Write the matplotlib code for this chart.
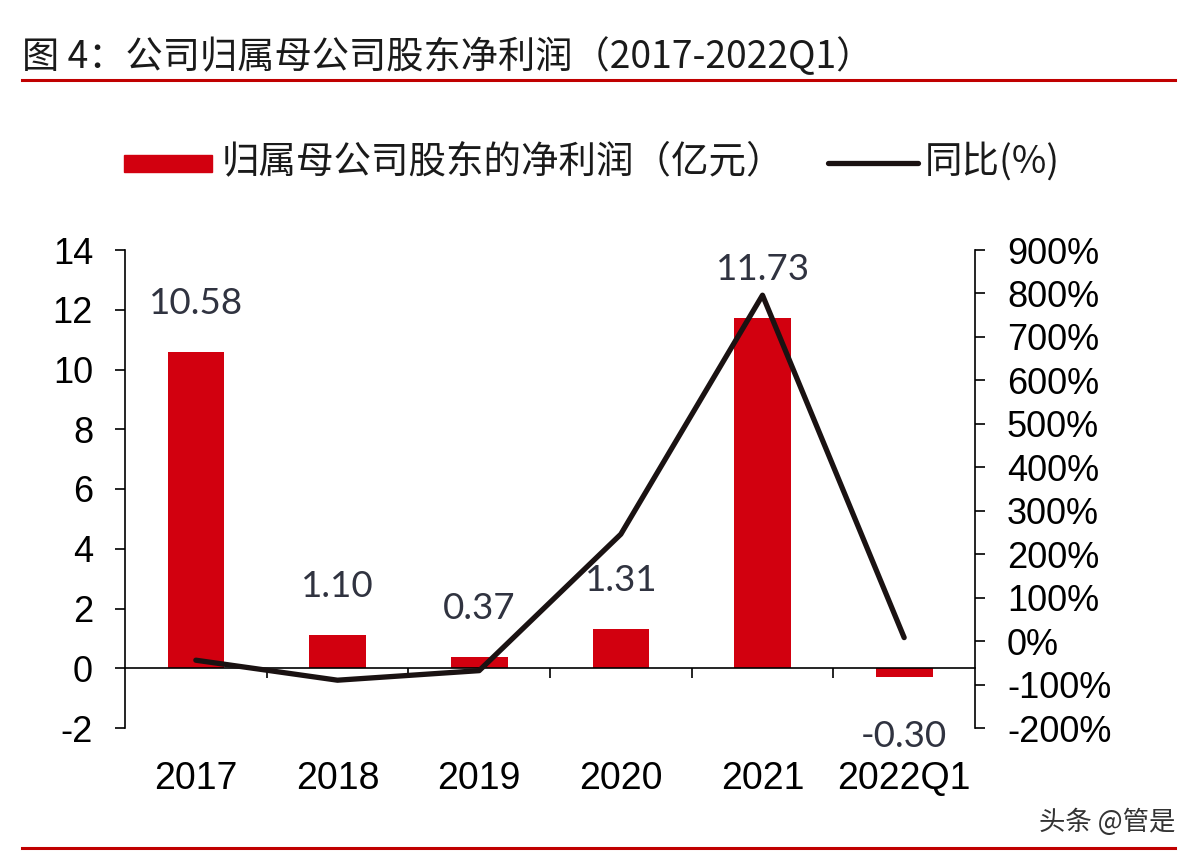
import matplotlib
matplotlib.use("Agg")
import matplotlib.pyplot as plt
import matplotlib.ticker as mticker
from matplotlib.patches import Rectangle
from matplotlib.lines import Line2D

categories = ["2017", "2018", "2019", "2020", "2021", "2022Q1"]
profit = [10.58, 1.10, 0.37, 1.31, 11.73, -0.30]
yoy = [-44, -90, -68, 246, 796, 8]
profit_labels = ["10.58", "1.10", "0.37", "1.31", "11.73", "-0.30"]

RED = "#d2000f"
FONT = ["Liberation Sans", "Noto Sans CJK SC", "DejaVu Sans"]
CJK = ["Noto Sans CJK SC", "Liberation Sans", "DejaVu Sans"]
plt.rcParams["font.family"] = FONT
plt.rcParams["axes.unicode_minus"] = False

fig = plt.figure(figsize=(11.98, 8.6), dpi=100)
ax = fig.add_axes([125 / 1198, 1 - 728 / 860, 850 / 1198, 478 / 860])
ax2 = ax.twinx()

x = list(range(len(categories)))
ax.bar(x, profit, width=0.4, color=RED, zorder=2)
ax2.plot(x, yoy, color="#1a1212", lw=3.8, solid_capstyle="round",
         solid_joinstyle="round", zorder=3)

ax.set_xlim(-0.5, len(categories) - 0.5)
ax.set_ylim(-2, 14)
ax.set_yticks(range(-2, 15, 2))
ax2.set_ylim(-200, 900)
ax2.set_yticks(range(-200, 901, 100))
ax2.yaxis.set_major_formatter(mticker.FuncFormatter(lambda v, p: f"{v:.0f}%"))

for s in ["top", "right"]:
    ax.spines[s].set_visible(False)
for s in ["top", "left", "bottom"]:
    ax2.spines[s].set_visible(False)
ax.spines["bottom"].set_position(("data", 0))
for s in [ax.spines["left"], ax.spines["bottom"], ax2.spines["right"]]:
    s.set_linewidth(1.2)
    s.set_color("black")

ax.set_xticks([i + 0.5 for i in x[:-1]])
ax.set_xticklabels([])
ax.tick_params(axis="x", direction="out", length=7, width=1.2)
ax.tick_params(axis="y", direction="out", length=7, width=1.2, pad=16,
               labelsize=26)
ax2.tick_params(axis="y", direction="out", length=7, width=1.2, pad=16,
                labelsize=26)

for i, c in enumerate(categories):
    ax.text(i, -0.106, c, transform=ax.get_xaxis_transform(), ha="center",
            va="center", fontsize=27)

for i, (v, lab) in enumerate(zip(profit, profit_labels)):
    if v >= 0:
        ax.annotate(lab, (i, v), xytext=(0, 23), textcoords="offset points",
                    ha="center", va="bottom", fontsize=26.5, color="#303340",
                    family="Lato")
    else:
        ax.annotate(lab, (i, v), xytext=(0, -31), textcoords="offset points",
                    ha="center", va="top", fontsize=26.5, color="#303340",
                    family="Lato")

# title and rules
fig.text(22 / 1198, 1 - 58 / 860, "图 4：公司归属母公司股东净利润（2017-2022Q1）",
         ha="left", va="center", fontsize=26.8, color="#1a1a1a", family=CJK,
         weight="medium")
fig.add_artist(Line2D([22 / 1198, 1175 / 1198], [1 - 80 / 860] * 2,
                      color="#c00000", lw=2.2))
fig.add_artist(Line2D([22 / 1198, 1175 / 1198], [1 - 848 / 860] * 2,
                      color="#c00000", lw=2.2))

# legend
fig.add_artist(Rectangle((124 / 1198, 1 - 172 / 860), 88 / 1198, 17 / 860,
                         transform=fig.transFigure, color=RED))
fig.text(222 / 1198, 1 - 162 / 860, "归属母公司股东的净利润（亿元）", ha="left",
         va="center", fontsize=27, color="#1a1a1a", family=CJK)
fig.add_artist(Line2D([828 / 1198, 918 / 1198], [1 - 163 / 860] * 2,
                      color="#1a1212", lw=3.8, solid_capstyle="round"))
fig.text(925 / 1198, 1 - 162 / 860, "同比(%)", ha="left", va="center",
         fontsize=27, color="#1a1a1a", family=CJK)

fig.text(1175 / 1198, 1 - 822 / 860, "头条 @管是", ha="right", va="center",
         fontsize=19, color="#333333", family=CJK)

fig.savefig("out.png", dpi=100)
